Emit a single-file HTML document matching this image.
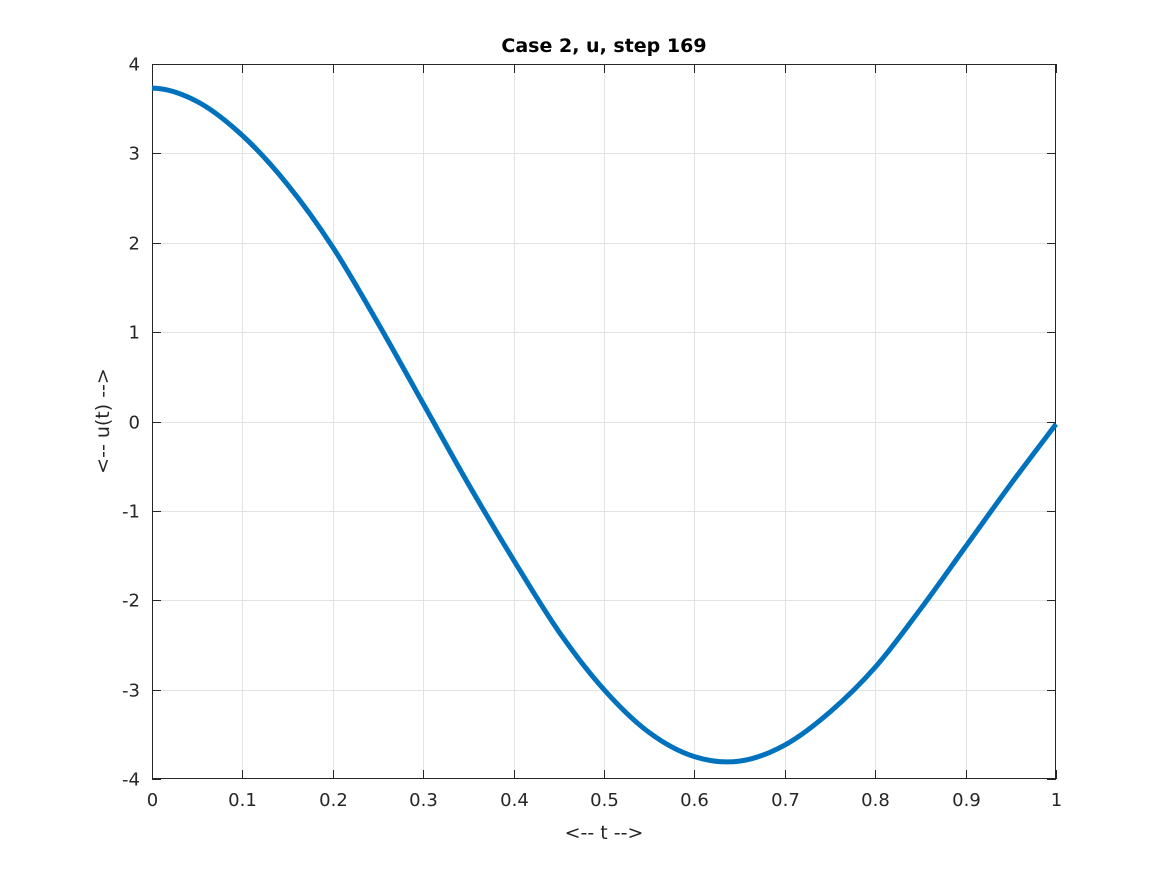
<!DOCTYPE html>
<html><head><meta charset="utf-8"><style>
body{margin:0;background:#fff}
svg text{font-family:"DejaVu Sans","Liberation Sans",sans-serif;fill:#262626;font-size:18px}
</style></head><body>
<svg id="s" width="1167" height="875" viewBox="0 0 1167 875" xmlns="http://www.w3.org/2000/svg">
<rect width="1167" height="875" fill="#fff"/>
<g id="grid" stroke="#e3e3e3" stroke-width="1"></g>
<rect x="152.5" y="64.5" width="903" height="714" fill="none" stroke="#262626" stroke-width="1"/>
<g id="ticks" stroke="#262626" stroke-width="1"></g>
<g id="labels"></g>
<path id="curve" fill="none" stroke="#0072bd" stroke-width="5" stroke-linejoin="round" stroke-linecap="butt"/>
<text x="604" y="52" text-anchor="middle" style="font-weight:bold;fill:#000;font-size:19px">Case 2, u, step 169</text>
<text x="604" y="839" text-anchor="middle" style="font-size:19px">&lt;-- t --&gt;</text>
<text transform="translate(109,421) rotate(-90)" text-anchor="middle" style="font-size:19px">&lt;-- u(t) --&gt;</text>
</svg>
<script>
var X0=152,X1=1056,Y0=64,Y1=779;
function px(t){return X0+(X1-X0)*t}
function py(u){return Y0+(4-u)*(Y1-Y0)/8}
var g=document.getElementById('grid'),tk=document.getElementById('ticks'),lb=document.getElementById('labels');
var h='',k='',l='';
for(var i=0;i<=10;i++){var x=Math.round(px(i/10))+0.5;
 if(i>0&&i<10)h+='<line x1="'+x+'" y1="64" x2="'+x+'" y2="779"/>';
 k+='<line x1="'+x+'" y1="779" x2="'+x+'" y2="770"/><line x1="'+x+'" y1="64" x2="'+x+'" y2="73"/>';
 l+='<text x="'+x+'" y="806" text-anchor="middle">'+(i==0?'0':i==10?'1':(i/10).toString())+'</text>';}
for(var j=-4;j<=4;j++){var y=Math.round(py(j))+0.5;
 if(j>-4&&j<4)h+='<line x1="152" y1="'+y+'" x2="1056" y2="'+y+'"/>';
 k+='<line x1="152" y1="'+y+'" x2="161" y2="'+y+'"/><line x1="1056" y1="'+y+'" x2="1047" y2="'+y+'"/>';
 l+='<text x="140" y="'+(y+6)+'" text-anchor="end">'+j+'</text>';}
g.innerHTML=h;tk.innerHTML=k;lb.innerHTML=l;
var u=[3.73,3.58,3.2,2.65,1.95,1.1,0.2,-0.7,-1.55,-2.35,-3.0,-3.48,-3.75,-3.8,-3.62,-3.25,-2.75,-2.1,-1.4,-0.7,-0.03];
var P=u.map(function(v,i){return [px(i/20),py(v)]});
var d='M'+P[0][0]+','+P[0][1];
for(var i=0;i<P.length-1;i++){var p0=i==0?[2*P[0][0]-P[1][0],P[1][1]]:P[i-1],p1=P[i],p2=P[i+1],p3=P[Math.min(P.length-1,i+2)];
 var c1=[p1[0]+(p2[0]-p0[0])/6,p1[1]+(p2[1]-p0[1])/6],c2=[p2[0]-(p3[0]-p1[0])/6,p2[1]-(p3[1]-p1[1])/6];
 d+=' C'+c1+' '+c2+' '+p2;}
document.getElementById('curve').setAttribute('d',d);
</script>
</body></html>
